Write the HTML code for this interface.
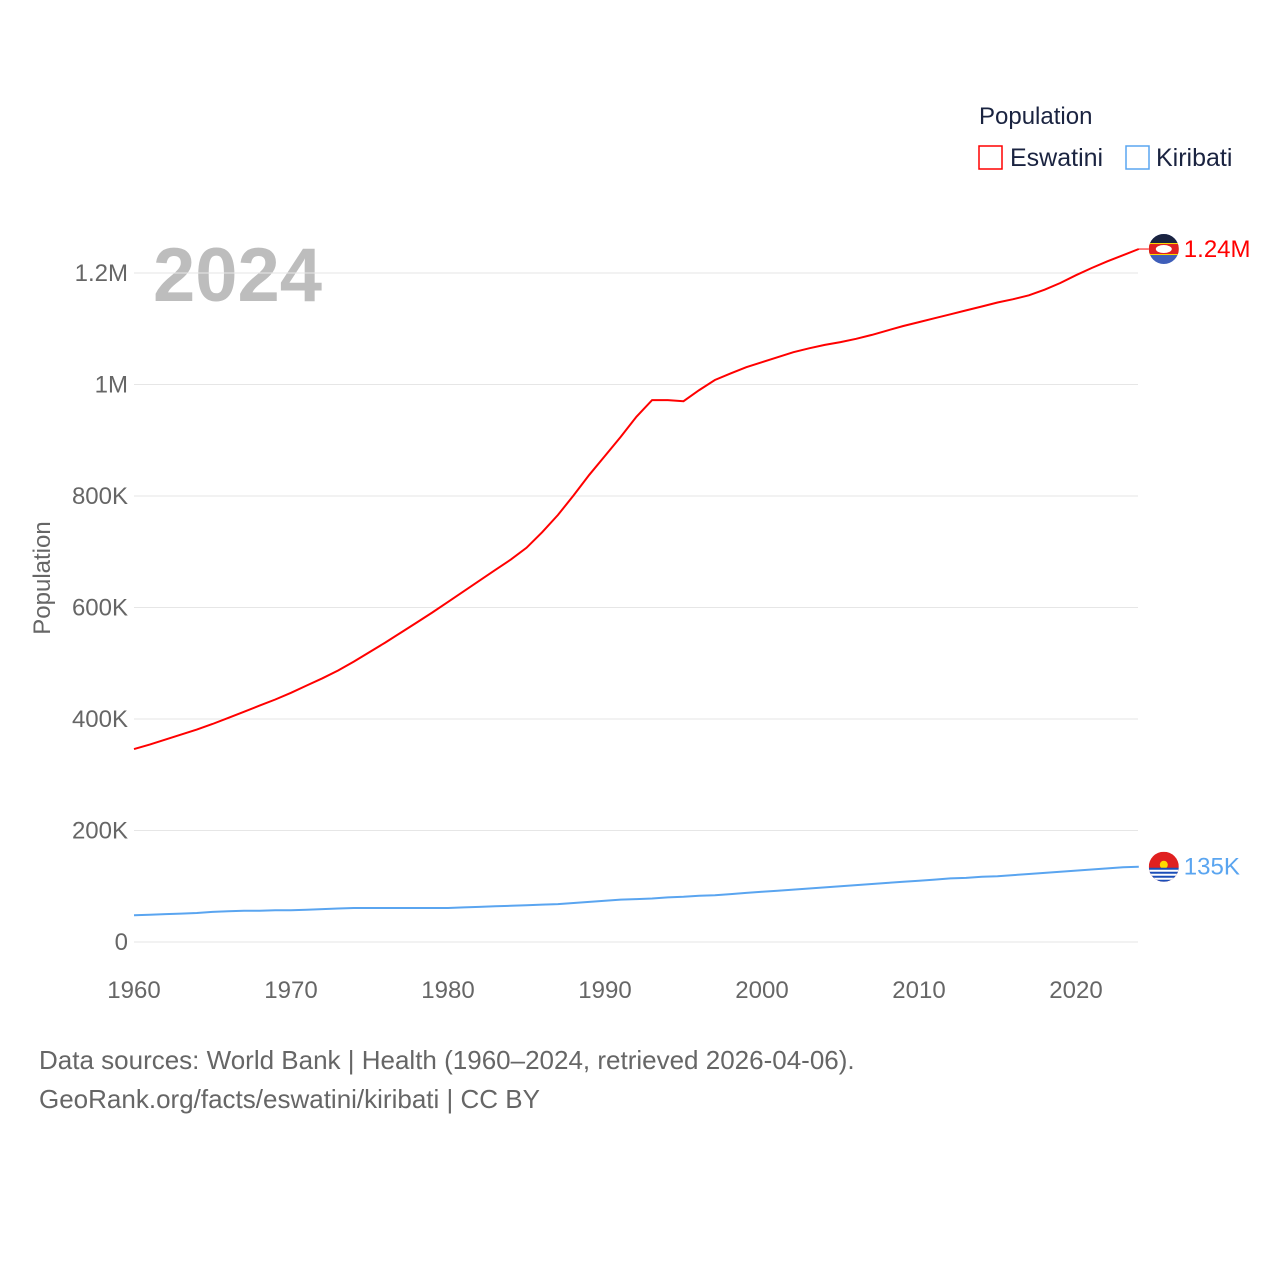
<!DOCTYPE html>
<html><head><meta charset="utf-8"><style>
body{margin:0;background:#fff;font-family:"Liberation Sans",sans-serif}
svg text{font-family:"Liberation Sans",sans-serif}
</style></head><body>
<svg id="chart" width="1280" height="1280">
<text x="979" y="124" font-size="24" fill="#1a2340">Population</text>
<rect x="979" y="146" width="23" height="23" fill="none" stroke="#ff0000" stroke-width="1.5"/>
<text x="1010" y="166" font-size="25" fill="#1a2340">Eswatini</text>
<rect x="1126" y="146" width="23" height="23" fill="none" stroke="#5aa5f0" stroke-width="1.5"/>
<text x="1156" y="166" font-size="25" fill="#1a2340">Kiribati</text>
<text x="153" y="301" font-size="76" font-weight="bold" fill="#bdbdbd">2024</text>
<text transform="translate(50,578) rotate(-90)" text-anchor="middle" font-size="24" fill="#666">Population</text>
<text x="39" y="1069" font-size="26" fill="#666">Data sources: World Bank | Health (1960–2024, retrieved 2026-04-06).</text>
<text x="39" y="1108" font-size="26" fill="#666">GeoRank.org/facts/eswatini/kiribati | CC BY</text>
<g id="grid"></g><g id="series"></g>
</svg>
<script>
const yearStart = 1960;
const eswatini = [346,354,363,372,381,391,402,413,424,435,447,460,473,487,503,520,537,555,573,591,610,629,648,667,686,707,735,766,801,838,872,906,942,972,972,970,990,1008,1020,1031,1040,1049,1058,1065,1071,1076,1082,1089,1097,1105,1112,1119,1126,1133,1140,1147,1153,1160,1170,1182,1196,1209,1221,1232,1243];
const kiribati = [48,49,50,51,52,54,55,56,56,57,57,58,59,60,61,61,61,61,61,61,61,62,63,64,65,66,67,68,70,72,74,76,77,78,80,81,83,84,86,88,90,92,94,96,98,100,102,104,106,108,110,112,114,115,117,118,120,122,124,126,128,130,132,134,135];
const yTicks = [0,200,400,600,800,1000,1200];
const yTickLabels = ["0","200K","400K","600K","800K","1M","1.2M"];
const xTicks = [1960,1970,1980,1990,2000,2010,2020];
const X = y => 134 + (y - 1960) * 15.7;
const Y = v => 942 - v * 111.5 / 200;
const NS = "http://www.w3.org/2000/svg";
const grid = document.getElementById('grid'), ser = document.getElementById('series');
function mk(tag, attrs, parent, txt){const e=document.createElementNS(NS,tag);for(const k in attrs)e.setAttribute(k,attrs[k]);if(txt!==undefined)e.textContent=txt;parent.appendChild(e);return e;}
yTicks.forEach((t,i)=>{
  const l=mk('line',{x1:134,x2:1138,y1:Y(t),y2:Y(t),stroke:'#e6e6e6','stroke-width':1},grid);
  
  
  const tx=mk('text',{x:128,y:Y(t)+8,'text-anchor':'end','font-size':24,fill:'#666'},grid,yTickLabels[i]);
  
  
});
xTicks.forEach(t=>{
  const tx=mk('text',{x:X(t),y:998,'text-anchor':'middle','font-size':24,fill:'#666'},grid,String(t));
  
  
});
function line(data,color,name){
  const d=data.map((v,i)=>(i?'L':'M')+X(yearStart+i).toFixed(1)+','+Y(v).toFixed(1)).join('');
  const p=mk('path',{d:d,fill:'none',stroke:color,'stroke-width':2},ser);
  
  
}
line(eswatini,'#ff0000','eswatini-line');
line(kiribati,'#5aa5f0','kiribati-line');
const lastYear = yearStart + eswatini.length - 1;
const ex=X(lastYear), ey=Y(eswatini[eswatini.length-1]);
const ky=Y(kiribati[kiribati.length-1]);
const g1=mk('g',{},ser);


mk('defs',{},g1).innerHTML='<clipPath id="c1"><circle cx="'+(ex+25)+'" cy="'+ey+'" r="15"/></clipPath><clipPath id="c2"><circle cx="'+(ex+25)+'" cy="'+ky+'" r="15"/></clipPath>';
mk('rect',{x:ex+10,y:ey-15,width:30,height:30,fill:'#3e5eb9','clip-path':'url(#c1)'},g1);
mk('rect',{x:ex+10,y:ey-15,width:30,height:9,fill:'#1a2340','clip-path':'url(#c1)'},g1);
mk('rect',{x:ex+10,y:ey-6,width:30,height:12,fill:'#ffd900','clip-path':'url(#c1)'},g1);
mk('rect',{x:ex+10,y:ey-5,width:30,height:10,fill:'#e02020','clip-path':'url(#c1)'},g1);
mk('ellipse',{cx:ex+25,cy:ey,rx:8,ry:4,fill:'#fff'},g1);
mk('line',{x1:ex,x2:ex+10,y1:ey,y2:ey,stroke:'#ff0000','stroke-width':1},g1);
const lt1=mk('text',{x:ex+45,y:ey+8,'font-size':24,fill:'#ff0000'},ser,'1.24M');


const g2=mk('g',{},ser);


mk('rect',{x:ex+10,y:ky-15,width:30,height:30,fill:'#e02020','clip-path':'url(#c2)'},g2);
mk('circle',{cx:ex+25,cy:ky-2,r:4,fill:'#ffd900'},g2);
mk('rect',{x:ex+10,y:ky+1,width:30,height:14,fill:'#1a4db8','clip-path':'url(#c2)'},g2);
[3,7,11].forEach(o=>mk('rect',{x:ex+10,y:ky+o,width:30,height:2,fill:'#fff','clip-path':'url(#c2)'},g2));
const lt2=mk('text',{x:ex+45,y:ky+8,'font-size':24,fill:'#5aa5f0'},ser,'135K');


</script>
</body></html>
